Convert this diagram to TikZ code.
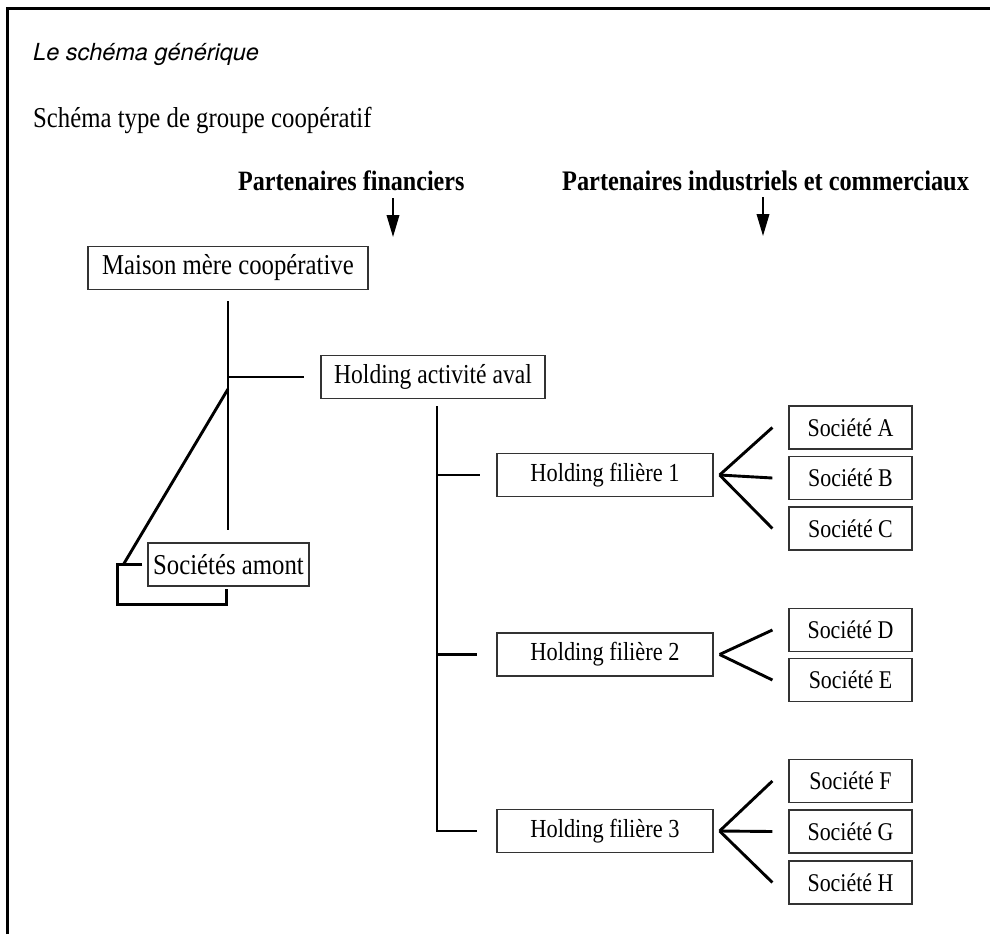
\documentclass[tikz,border=0pt]{standalone}
\usepackage{fontspec}
\setmainfont{Liberation Serif}[FakeStretch=0.86]
\newfontfamily\helvit{TeX Gyre Heros}
\usetikzlibrary{arrows.meta}

\begin{document}
\begin{tikzpicture}[x=1pt,y=-1pt,
  box/.style={draw=black!80,line width=1.2pt,inner sep=0pt,minimum height=43pt,
    font=\fontsize{28.8}{32}\selectfont},
  societe/.style={box,minimum width=123pt,font=\fontsize{25.5}{29}\selectfont},
  filiere/.style={box,minimum width=216pt,font=\fontsize{26}{29}\selectfont},
  link/.style={line width=2.9pt},
  pointer/.style={line width=2pt,-{Triangle[length=22pt,width=12.5pt]}},
  txt/.style={anchor=base west,inner sep=0pt}]
\useasboundingbox (0,0) rectangle (990,934);
% cadre
\draw[line width=2.8pt] (7.5,934) -- (7.5,8.3) -- (990,8.3);
% titres
\path (33,61) node[txt,font=\helvit\itshape\fontsize{23.5}{27}\selectfont] (titre) {Le schéma générique};
\path (33,127) node[txt,font=\fontsize{28.8}{32}\selectfont] (soustitre) {Schéma type de groupe coopératif};
\path (238,190) node[txt,font=\bfseries\fontsize{28}{32}\selectfont] (fin) {Partenaires financiers};
\path (562,190) node[txt,font=\bfseries\fontsize{28.3}{32}\selectfont] (ind) {Partenaires industriels et commerciaux};
\coordinate (finArrow) at (393,198);
\coordinate (indArrow) at (763,197);
\draw[pointer] (finArrow) -- ++(0,39);
\draw[pointer] (indArrow) -- ++(0,39);
% boites
\path (228,268) node[box,minimum width=280pt] (maison) {Maison mère coopérative};
\path (433,377) node[box,minimum width=224pt,font=\fontsize{27.4}{31}\selectfont] (aval) {Holding activité aval};
\path (228.5,564.5) node[box,minimum width=161pt] (amont) {Sociétés amont};
\path (605,475) node[filiere] (hf1) {Holding filière 1};
\path (605,654.5) node[filiere] (hf2) {Holding filière 2};
\path (605,831) node[filiere] (hf3) {Holding filière 3};
\path (850.5,427.5) node[societe] (sA) {Société A};
\path (850.5,478) node[societe] (sB) {Société B};
\path (850.5,528.5) node[societe] (sC) {Société C};
\path (850.5,630) node[societe] (sD) {Société D};
\path (850.5,680) node[societe] (sE) {Société E};
\path (850.5,781) node[societe] (sF) {Société F};
\path (850.5,831.5) node[societe] (sG) {Société G};
\path (850.5,882.5) node[societe] (sH) {Société H};
% liens maison mere
\coordinate (fork) at (228,389);
\draw[link,shorten <=11pt,shorten >=12pt] (maison.south) -- (maison.south |- amont.north);
\draw[link,shorten >=16pt] (maison.south |- aval.west) -- (aval.west);
\draw[link] (fork) -- ([xshift=-24pt]amont.west);
\draw[link] ([xshift=-5pt]amont.west) -- ++(-25,0) -- ++(0,40) -- ++(109,0) -- ++(0,-16);
% liens holding aval
\coordinate (spine) at (437,406);
\draw[link] (spine) |- ([xshift=-19pt]hf3.west);
\draw[link] (spine |- hf1.west) -- ([xshift=-16pt]hf1.west);
\draw[link] (spine |- hf2.west) -- ([xshift=-19pt]hf2.west);
% eventails
\foreach \h/\s in {hf1/sA,hf1/sB,hf1/sC,hf2/sD,hf2/sE,hf3/sF,hf3/sG,hf3/sH}
  \draw[link] ([xshift=6pt]\h.east) -- ([xshift=-16pt]\s.west);
\end{tikzpicture}
\end{document}
